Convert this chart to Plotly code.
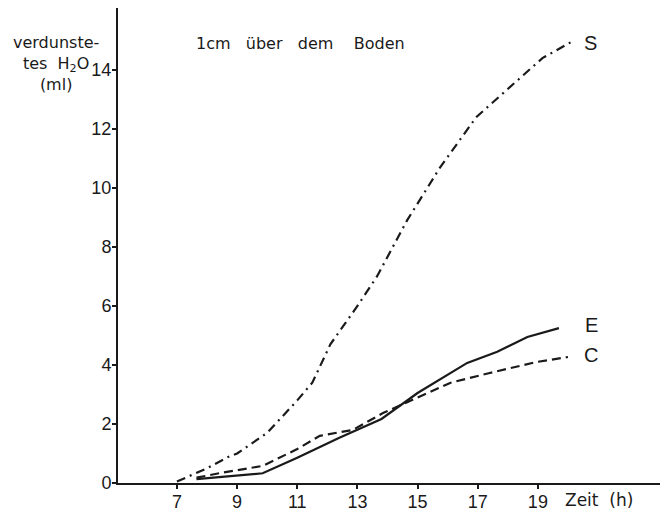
import plotly.graph_objects as go

# Data
s_hours = [7.0, 8.0, 8.7, 9.0, 10.0, 11.0, 11.5, 12.1, 13.0, 13.65, 14.65, 15.75, 16.95, 17.95, 19.15, 20.2]
s_vals = [0.05, 0.5, 0.88, 1.0, 1.7, 2.8, 3.4, 4.7, 6.0, 7.0, 8.9, 10.7, 12.4, 13.3, 14.4, 15.0]

e_hours = [7.65, 8.5, 9.85, 11.0, 12.4, 13.8, 15.0, 16.65, 17.65, 18.65, 19.7]
e_vals = [0.13, 0.2, 0.33, 0.86, 1.53, 2.17, 3.05, 4.07, 4.45, 4.95, 5.25]

c_hours = [7.65, 8.5, 9.85, 11.0, 11.75, 12.85, 13.85, 15.0, 16.1, 17.4, 18.95, 20.0]
c_vals = [0.18, 0.35, 0.58, 1.15, 1.6, 1.8, 2.37, 2.9, 3.4, 3.73, 4.1, 4.27]

x_ticks = [7, 9, 11, 13, 15, 17, 19]
y_ticks = [0, 2, 4, 6, 8, 10, 12, 14]
series_labels = ["S", "E", "C"]

font = "Liberation Sans, Arial, sans-serif"
ink = "#1a1a1a"

fig = go.Figure()
fig.add_trace(go.Scatter(x=s_hours, y=s_vals, mode="lines",
                         line=dict(color=ink, width=2.2, dash="9px,5px,2px,5px"),
                         showlegend=False))
fig.add_trace(go.Scatter(x=e_hours, y=e_vals, mode="lines",
                         line=dict(color=ink, width=2.2),
                         showlegend=False))
fig.add_trace(go.Scatter(x=c_hours, y=c_vals, mode="lines",
                         line=dict(color=ink, width=2.2, dash="9px,5px"),
                         showlegend=False))

# series labels at end of lines
ends = [(s_hours[-1], s_vals[-1]), (e_hours[-1], e_vals[-1]), (c_hours[-1], c_vals[-1])]
shifts = {"S": (8, -3), "E": (24, 3), "C": (14, 2)}
for lab, (xe, ye) in zip(series_labels, ends):
    fig.add_annotation(x=xe, y=ye, text=lab, showarrow=False, xanchor="left",
                       xshift=shifts[lab][0], yshift=shifts[lab][1],
                       font=dict(family=font, size=20, color=ink))

fig.add_annotation(xref="paper", yref="paper", x=0.14, y=0.926,
                   text="1cm&nbsp;&nbsp;&nbsp;über&nbsp;&nbsp;&nbsp;dem&nbsp;&nbsp;&nbsp;&nbsp;Boden",
                   showarrow=False, xanchor="left", yanchor="middle",
                   font=dict(family="DejaVu Sans, sans-serif", size=16, color=ink))
fig.add_annotation(xref="x", yref="paper", x=19.83, y=0, yanchor="top", xanchor="left",
                   yshift=-5, text="Zeit&nbsp;&nbsp;(h)", showarrow=False,
                   font=dict(family="DejaVu Sans, sans-serif", size=17, color=ink))
fig.add_annotation(xref="paper", yref="paper", x=0.0, y=0.952, xanchor="right", yanchor="top",
                   xshift=-17, align="center",
                   text="verdunste-<br>tes&nbsp;&nbsp;H<sub>2</sub>O<br>(ml)", showarrow=False,
                   font=dict(family="DejaVu Sans, sans-serif", size=16, color=ink))

fig.update_xaxes(range=[5.04, 23.06], tickvals=x_ticks, ticks="outside", ticklen=4,
                 tickwidth=2, tickcolor=ink, showline=True, linewidth=2,
                 linecolor=ink, showgrid=False, zeroline=False, automargin=False,
                 ticklabelstandoff=-3,
                 tickfont=dict(family=font, size=18, color=ink))
fig.update_yaxes(range=[0, 16.1], tickvals=y_ticks, ticks="outside", ticklen=4,
                 tickwidth=2, tickcolor=ink, showline=True, linewidth=2,
                 linecolor=ink, showgrid=False, zeroline=False, ticklabelstandoff=-3,
                 automargin=False,
                 tickfont=dict(family=font, size=18, color=ink))

fig.update_layout(width=664, height=512, margin=dict(l=118, r=4, t=8, b=29),
                  plot_bgcolor="white", paper_bgcolor="white")

fig.write_html("out.html")
